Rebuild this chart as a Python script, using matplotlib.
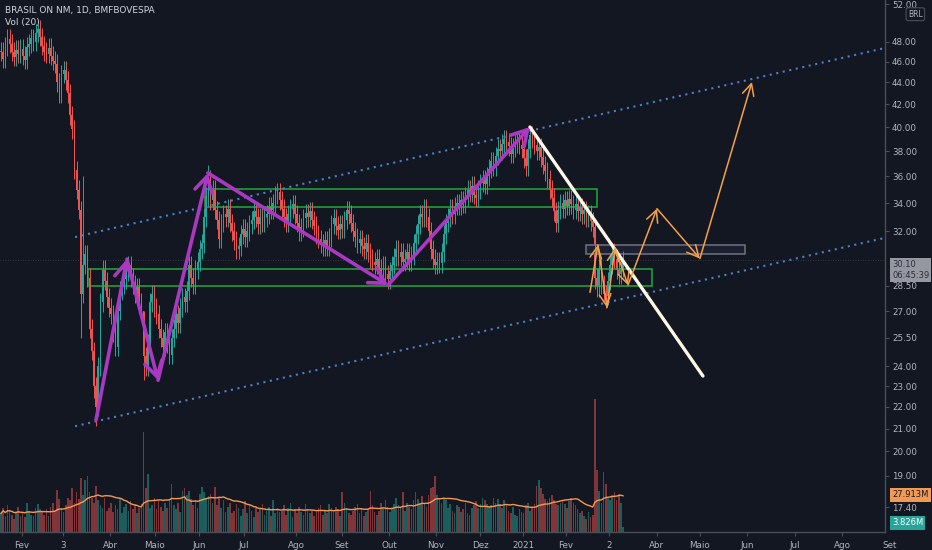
import numpy as np
import pandas as pd
import matplotlib
matplotlib.use('Agg')
import matplotlib.pyplot as plt
from matplotlib.patches import Rectangle
from matplotlib.ticker import NullLocator
import matplotlib.transforms as mtransforms

# daily closes (BRL), one row = 10 sessions
closes = [
    47.0, 46.3, 47.5, 48.3, 47.8, 47.0, 46.5, 47.2, 46.8, 47.3,
    46.6, 46.2, 47.5, 47.8, 48.4, 48.0, 48.9, 49.3, 48.5, 47.6,
    47.0, 46.8, 47.4, 46.6, 46.1, 45.8, 44.0, 43.0, 44.8, 45.2,
    44.2, 43.0, 41.0, 39.8, 36.5, 35.0, 33.5, 28.0, 29.8, 30.5,
    29.0, 26.0, 24.8, 23.0, 22.0, 24.0, 27.5, 29.5, 28.8, 27.8,
    27.2, 26.8, 25.8, 25.0, 27.0, 28.2, 28.6, 28.9, 29.4, 29.8,
    29.0, 28.6, 28.0, 28.4, 27.5, 27.0, 24.5, 24.0, 25.2, 27.5,
    28.0, 27.2, 26.8, 26.0, 25.5, 25.0, 25.8, 25.2, 24.6, 25.5,
    26.0, 26.8, 26.3, 27.2, 27.8, 27.5, 28.2, 29.8, 29.0, 28.6,
    29.5, 30.0, 30.8, 31.2, 33.0, 34.5, 35.8, 34.2, 35.0, 33.5,
    32.8, 31.5, 32.6, 33.2, 33.0, 33.6, 32.6, 32.0, 31.4, 30.8,
    31.0, 31.8, 32.2, 31.6, 32.0, 32.5, 32.8, 33.4, 33.0, 32.5,
    33.0, 32.6, 33.0, 33.2, 33.8, 33.5, 34.0, 34.6, 34.8, 34.2,
    33.6, 33.0, 32.6, 33.2, 33.6, 33.9, 33.2, 32.6, 32.0, 32.3,
    32.9, 33.3, 33.0, 33.4, 32.8, 32.4, 31.8, 31.5, 31.2, 31.0,
    31.4, 31.0, 31.6, 32.5, 32.9, 32.4, 32.1, 32.5, 32.2, 32.8,
    33.5, 33.2, 32.6, 32.0, 31.6, 31.2, 31.5, 31.0, 30.8, 31.2,
    30.6, 30.2, 30.0, 29.8, 30.2, 29.6, 29.4, 29.8, 29.2, 28.9,
    29.4, 29.8, 30.3, 30.8, 30.3, 30.6, 30.0, 30.2, 30.6, 30.0,
    30.4, 31.2, 31.8, 32.5, 33.2, 33.0, 33.6, 33.0, 32.0, 30.8,
    30.2, 29.8, 30.0, 29.9, 30.6, 31.8, 32.6, 33.0, 33.6, 33.2,
    33.8, 34.0, 33.8, 34.2, 34.0, 34.5, 35.0, 34.8, 35.3, 34.6,
    34.4, 35.0, 35.5, 35.8, 35.4, 36.0, 36.6, 37.2, 36.8, 37.6,
    38.2, 38.0, 38.6, 39.0, 38.7, 38.4, 37.8, 38.3, 38.6, 38.9,
    38.5, 38.2, 37.4, 36.8, 38.2, 39.3, 39.0, 38.5, 38.0, 38.3,
    37.5, 36.9, 36.4, 35.8, 35.0, 34.4, 33.4, 32.6, 33.5, 34.0,
    33.6, 34.2, 33.8, 34.3, 33.9, 33.5, 33.9, 33.4, 33.7, 33.2,
    33.5, 33.0, 33.2, 32.7, 32.3, 29.0, 28.4, 29.6, 28.6, 28.0,
    27.9, 28.8, 29.8, 30.6, 30.2, 29.5, 29.2, 29.6, 30.1,
]

# daily volume (millions)
volumes = [
    14, 18, 12, 20, 16, 13, 10, 15, 19, 12,
    14, 11, 22, 16, 13, 12, 18, 21, 17, 15,
    13, 17, 12, 19, 22, 16, 32, 25, 18, 15,
    20, 26, 24, 33, 22, 30, 25, 41, 28, 39,
    42, 30, 26, 22, 35, 24, 20, 18, 26, 16,
    18, 22, 15, 20, 17, 26, 14, 19, 21, 16,
    23, 17, 20, 14, 18, 21, 75, 33, 44, 18,
    20, 26, 17, 24, 19, 16, 22, 18, 25, 36,
    20, 17, 22, 15, 31, 33, 28, 31, 25, 20,
    24, 18, 29, 34, 30, 26, 27, 29, 22, 34,
    20, 26, 18, 24, 15, 19, 22, 14, 16, 21,
    18, 12, 17, 23, 14, 20, 16, 11, 18, 15,
    17, 21, 13, 16, 19, 12, 24, 14, 18, 15,
    16, 20, 13, 18, 22, 11, 17, 14, 19, 15,
    13, 21, 17, 14, 16, 12, 15, 18, 20, 13,
    16, 14, 21, 18, 15, 19, 17, 12, 30, 22,
    18, 14, 13, 16, 19, 21, 14, 18, 12, 15,
    17, 31, 20, 15, 13, 16, 22, 18, 24, 19,
    15, 17, 21, 26, 20, 18, 30, 16, 22, 19,
    17, 24, 30, 25, 22, 27, 21, 19, 28, 33,
    34, 42, 28, 26, 22, 25, 24, 18, 21, 16,
    14, 20, 19, 15, 17, 22, 14, 13, 18, 20,
    23, 18, 21, 26, 24, 21, 19, 20, 26, 22,
    25, 21, 18, 24, 20, 16, 14, 19, 13, 12,
    17, 15, 14, 20, 22, 16, 18, 21, 35, 39,
    33, 29, 25, 23, 26, 28, 24, 21, 20, 22,
    24, 21, 18, 23, 26, 22, 20, 17, 14, 16,
    12, 10, 15, 11, 13, 100, 47, 31, 22, 45,
    36, 26, 24, 28, 30, 24, 29, 22, 3.826,
]

# wick extremes that stick out on the chart (bar index -> price)
spike_highs = {17: 49.8, 38: 36.0, 66: 27.0, 96: 36.9, 245: 39.9, 275: 32.6}
spike_lows = {37: 25.5, 43: 22.4, 44: 21.1, 66: 23.3, 275: 28.3, 280: 27.2}

# x axis (bar index) labels
tick_labels = ['Fev', '3', 'Abr', 'Maio', 'Jun', 'Jul', 'Ago', 'Set', 'Out', 'Nov',
               'Dez', '2021', 'Fev', '2', 'Abr', 'Maio', 'Jun', 'Jul', 'Ago', 'Set']
tick_pos = [9.7, 28.7, 50.5, 71.3, 91.7, 112.5, 136.6, 157.9, 179.6, 201.4,
            221.8, 241.7, 261.6, 281.5, 303.7, 323.6, 345.4, 367.6, 389.4, 411.6]

# price scale labels as printed, and where they sit on the scale
price_labels = ['52.00', '48.00', '46.00', '44.00', '42.00', '40.00', '38.00', '36.00', '34.00',
                '32.00', '28.50', '27.00', '25.50', '24.00', '23.00', '22.00', '21.00', '20.00',
                '19.00', '17.40']
price_ticks = [52, 48, 46, 44, 42, 40, 38, 36, 34, 32, 28.5, 27, 25.5, 24, 23, 22, 21, 20, 19, 17.76]
last_price = 30.10
vol_ma_last = 27.913

# drawings: (bar index, price)
purple_path = [(44.0, 21.39), (58.3, 30.17), (72.7, 23.29), (95.8, 36.26), (179.2, 28.54), (244.9, 40.0)]
white_line = [(244.9, 40.0), (325.0, 23.5)]
orange_path = [(272.7, 28.1), (276.4, 31.1), (280.6, 27.2), (284.3, 30.9), (290.3, 28.54),
               (303.7, 33.6), (323.6, 30.2), (347.7, 44.04)]
channel_upper = [(34.3, 31.62), (409.3, 47.36)]
channel_lower = [(34.3, 21.11), (409.3, 31.57)]
green_zones = [(94.4, 275.9, 33.71, 35.04), (40.3, 301.4, 28.48, 29.53)]
grey_zone = (270.8, 344.4, 30.47, 31.1)

BG = '#131722'
UP = '#26a69a'
DOWN = '#ef5350'
TXT = '#b2b5be'
AXC = '#4a4e59'

c = np.array(closes)
o = np.concatenate([[closes[0]], c[:-1]])
idx = np.arange(len(c))
wick = 0.02
hi = np.maximum(o, c) * (1 + wick)
lo = np.minimum(o, c) * (1 - wick)
for k, v in spike_highs.items():
    hi[k] = v
for k, v in spike_lows.items():
    lo[k] = v
up = c >= o
cols = np.where(up, UP, DOWN)

vol = pd.Series(volumes, dtype=float)
vol_ma = vol.rolling(20, min_periods=1).mean()

fig = plt.figure(figsize=(9.32, 5.5), dpi=100, facecolor=BG)
ax = fig.add_axes([0, 18 / 550, 885 / 932, 532 / 550])
axv = ax.twinx()
ax.set_zorder(2)
axv.set_zorder(1)
ax.patch.set_visible(False)
axv.patch.set_facecolor(BG)

# volume pane
axv.bar(idx, vol, width=0.75, color=cols, alpha=0.5, linewidth=0)
axv.plot(idx, vol_ma, color='#f39a52', lw=1.0)
axv.set_ylim(0, 401)
axv.axis('off')

# candles
ax.vlines(idx, lo, hi, colors=cols, lw=0.7)
body_h = np.maximum(np.abs(c - o), 0.04)
ax.bar(idx, body_h, bottom=np.minimum(o, c), width=0.72, color=cols, linewidth=0)

ax.set_yscale('log')
ax.set_ylim(16.84, 52.47)
ax.set_xlim(-0.46, 409.3)

# last price line
ax.axhline(last_price, color='#5d606b', lw=0.6, ls=(0, (1, 2)), alpha=0.6)

# channel
for pts in (channel_upper, channel_lower):
    xs, ys = zip(*pts)
    ax.plot(xs, ys, color='#4f7fc9', lw=1.5, ls=(0, (1, 2.2)))

for x0, x1, y0, y1 in green_zones:
    ax.add_patch(Rectangle((x0, y0), x1 - x0, y1 - y0, fill=False, ec='#22a83a', lw=1.1))
gx0, gx1, gy0, gy1 = grey_zone
ax.add_patch(Rectangle((gx0, gy0), gx1 - gx0, gy1 - gy0, fc='#1c2030', ec='#6f7380', lw=1.1))

# purple swings
for a, b in zip(purple_path[:-1], purple_path[1:]):
    ax.annotate('', xy=b, xytext=a,
                arrowprops=dict(arrowstyle='->,head_length=0.6,head_width=0.35', color='#ab38c2',
                                lw=2.6, shrinkA=0, shrinkB=0, mutation_scale=18))

xs, ys = zip(*white_line)
ax.plot(xs, ys, color='#fff8e6', lw=2.4, solid_capstyle='round')

for a, b in zip(orange_path[:-1], orange_path[1:]):
    ax.annotate('', xy=b, xytext=a,
                arrowprops=dict(arrowstyle='->,head_length=0.6,head_width=0.3', color='#f5a14a',
                                lw=1.1, shrinkA=0, shrinkB=0, mutation_scale=14))

# axes styling
for s in ('left', 'top'):
    ax.spines[s].set_visible(False)
for s in ('right', 'bottom'):
    ax.spines[s].set_color(AXC)
    ax.spines[s].set_linewidth(1.0)

ax.yaxis.tick_right()
ax.yaxis.set_minor_locator(NullLocator())
ax.set_yticks(price_ticks)
ax.set_yticklabels(price_labels)
ax.tick_params(axis='y', colors=AXC, labelcolor=TXT, labelsize=6.3, length=3, width=0.8, pad=2)

ax.set_xticks([p for p in tick_pos if p < 409.3])
ax.set_xticklabels([])
ax.tick_params(axis='x', colors=AXC, length=3, width=0.8)
xtr = mtransforms.blended_transform_factory(ax.transData, ax.transAxes)
for p, lbl in zip(tick_pos, tick_labels):
    ax.text(p, -0.016, lbl, transform=xtr, ha='center', va='top', fontsize=6.3, color=TXT, clip_on=False)

# right side badges
ytr = mtransforms.blended_transform_factory(ax.transAxes, ax.transData)
ax.text(1.008, last_price, '%.2f\n06:45:39' % last_price, transform=ytr, ha='left', va='top',
        fontsize=6.0, color='#2a2e39', linespacing=1.25,
        bbox=dict(boxstyle='square,pad=0.25', fc='#9598a1', ec='none'))
ax.text(1.026, 50.9, 'BRL', transform=ytr, ha='left', va='center', fontsize=5.5, color=TXT,
        bbox=dict(boxstyle='round,pad=0.25', fc=BG, ec='#4a4e59', lw=0.8))

vtr = mtransforms.blended_transform_factory(axv.transAxes, axv.transData)
axv.text(1.008, vol_ma_last, '%.3fM' % vol_ma_last, transform=vtr, ha='left', va='center',
         fontsize=6.0, color='#131722', bbox=dict(boxstyle='square,pad=0.25', fc='#f39a52', ec='none'))
axv.text(1.008, volumes[-1] + 3, '%.3fM' % volumes[-1], transform=vtr, ha='left', va='center',
         fontsize=6.0, color='white', bbox=dict(boxstyle='square,pad=0.25', fc=UP, ec='none'))

fig.text(5 / 932, 1 - 10 / 550, 'BRASIL ON NM, 1D, BMFBOVESPA', fontsize=6.5, color='#d1d4dc', va='center')
fig.text(5 / 932, 1 - 23 / 550, 'Vol (20)', fontsize=6.5, color='#d1d4dc', va='center')

fig.savefig('out.png', dpi=100, facecolor=BG)
